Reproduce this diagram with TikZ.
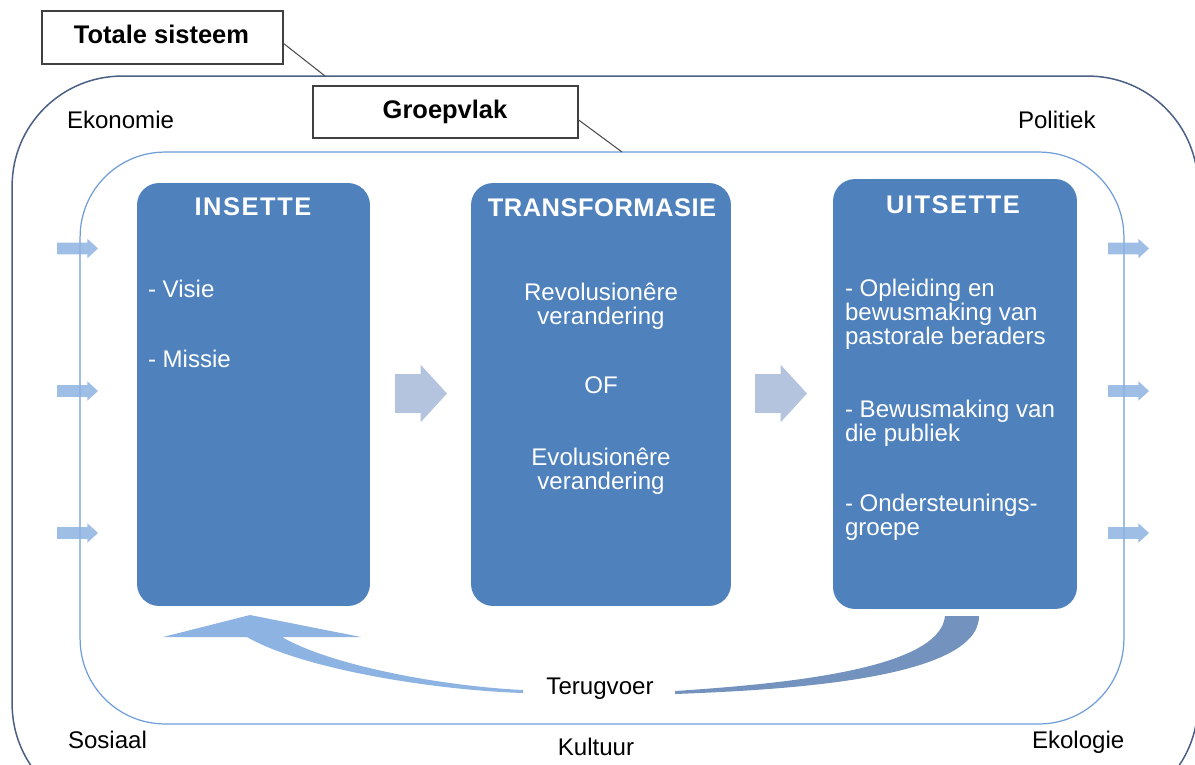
\documentclass[tikz,border=0pt]{standalone}
\usepackage{fontspec}
\setmainfont{Liberation Sans}
\usetikzlibrary{positioning, shapes.arrows}

\definecolor{boxblue}{HTML}{4F81BD}
\definecolor{arrowblue}{HTML}{8DB3E2}
\definecolor{paleblue}{HTML}{B4C4DF}
\definecolor{backblue}{HTML}{7393BE}
\definecolor{outerline}{HTML}{4A5F85}
\definecolor{innerline}{HTML}{6F9DD8}

\newcommand\bodyfont{\fontsize{13.7}{13.6}\selectfont}
\newcommand\titlefont{\fontsize{14.5}{15}\selectfont\bfseries}

\begin{document}
\begin{tikzpicture}[x=0.02cm, y=-0.02cm,
    every node/.style={inner sep=0pt, outer sep=0pt},
    procbox/.style={fill=boxblue, rounded corners=0.44cm},
    lblbox/.style={draw=black!75, line width=0.8pt, fill=white},
    lblline/.style={draw=black!70, line width=0.6pt},
    envtext/.style={font=\bodyfont, anchor=base west},
    boxtitle/.style={font=\titlefont, text=white, anchor=base},
    boxtext/.style={font=\bodyfont, text=white, anchor=base west, align=left},
    inarrow/.style={single arrow, fill=arrowblue, fill opacity=0.85, anchor=tip,
      inner xsep=0pt, inner ysep=0.11cm,
      minimum height=0.82cm, minimum width=0.38cm,
      single arrow head extend=0.08cm, single arrow tip angle=85},
    bigarrow/.style={single arrow, fill=paleblue, anchor=tip,
      inner xsep=0pt, inner ysep=0.38cm,
      minimum height=1.04cm, minimum width=1.14cm,
      single arrow head extend=0.19cm, single arrow tip angle=95}]

\useasboundingbox (0,0) rectangle (1195,764);
\clip (0,0) rectangle (1195,764);

% system boundaries
\node[draw=outerline, line width=0.85pt, rounded corners=2.2cm,
  minimum width=23.72cm, minimum height=14.76cm] (totaal) at (605,445) {};
\node[draw=innerline, line width=0.7pt, rounded corners=1.7cm,
  minimum width=20.88cm, minimum height=11.44cm] (groep) at (602,438) {};

% label boxes
\node[lblbox, minimum width=4.82cm, minimum height=1.06cm] (totaal-lbl) at (162.5,37.5) {};
\node[font=\titlefont, anchor=base] (totaal-txt) at (161.5,43) {Totale sisteem};
\node[lblbox, minimum width=5.3cm, minimum height=1.04cm] (groep-lbl) at (445.5,112) {};
\node[font=\titlefont, anchor=base] (groep-txt) at (445,118) {Groepvlak};
\coordinate (totaal-rand) at (325,76);
\coordinate (groep-rand) at (622,152);
\draw[lblline] ([yshift=-0.11cm]totaal-lbl.east) -- (totaal-rand);
\draw[lblline] ([yshift=-0.15cm]groep-lbl.east) -- (groep-rand);

% environment
\node[envtext] (ekonomie) at (67,128) {Ekonomie};
\node[envtext] (politiek) at (1018,128) {Politiek};
\node[envtext] (sosiaal) at (68,748) {Sosiaal};
\node[font=\bodyfont, anchor=base] (kultuur) at (596,755) {Kultuur};
\node[envtext] (ekologie) at (1032,748) {Ekologie};

% the three stages
\node[procbox, minimum width=4.66cm, minimum height=8.46cm] (insette) at (253.5,394.5) {};
\node[procbox, minimum width=5.2cm, minimum height=8.46cm] (transf) at (601,394.5) {};
\node[procbox, minimum width=4.88cm, minimum height=8.6cm] (uitsette) at (955,394) {};

\node[boxtitle] (insette-t) at (253,215) {\addfontfeature{LetterSpace=6}INSETTE};
\node[boxtitle] (transf-t) at (602,216) {\addfontfeature{LetterSpace=2}TRANSFORMASIE};
\node[boxtitle] (uitsette-t) at (953,213) {\addfontfeature{LetterSpace=6}UITSETTE};

\node[boxtext] (visie) at (148,297) {- Visie};
\node[boxtext] (missie) at (148,367) {- Missie};

% base of a multi-line node is its last line
\node[font=\bodyfont, text=white, anchor=base, align=center] (revo) at (601,324)
  {Revolusionêre\\verandering};
\node[font=\bodyfont, text=white, anchor=base] (of) at (601,393) {OF};
\node[font=\bodyfont, text=white, anchor=base, align=center] (evo) at (601,489)
  {Evolusionêre\\verandering};

\node[boxtext] (opleiding) at (845,344)
  {- Opleiding en\\bewusmaking van\\pastorale beraders};
\node[boxtext] (publiek) at (845,441) {- Bewusmaking van\\die publiek};
\node[boxtext] (groepe) at (845,535) {- Ondersteunings-\\groepe};

% flow arrows
\node[bigarrow] (pyl1) at (447,393.5) {};
\node[bigarrow] (pyl2) at (807,393.5) {};
\foreach \yy [count=\i] in {248.5,391,533} {
  \node[inarrow] (in\i) at (98,\yy) {};
  \node[inarrow] (uit\i) at (1149,\yy) {};
}

% feedback loop
\fill[backblue] (945,616) .. controls (940,670) and (780,684) .. (675,691)
  -- (675,694) .. controls (780,690) and (979,680) .. (979,616) -- cycle;
\fill[arrowblue] (250,615) -- (361,637) -- (282,637)
  .. controls (330,665) and (440,686) .. (523,690) -- (523,693)
  .. controls (430,690) and (300,668) .. (247,637) -- (163,637) -- cycle;
\node[font=\bodyfont, anchor=base] (terugvoer) at (600,694) {Terugvoer};
\end{tikzpicture}
\end{document}
